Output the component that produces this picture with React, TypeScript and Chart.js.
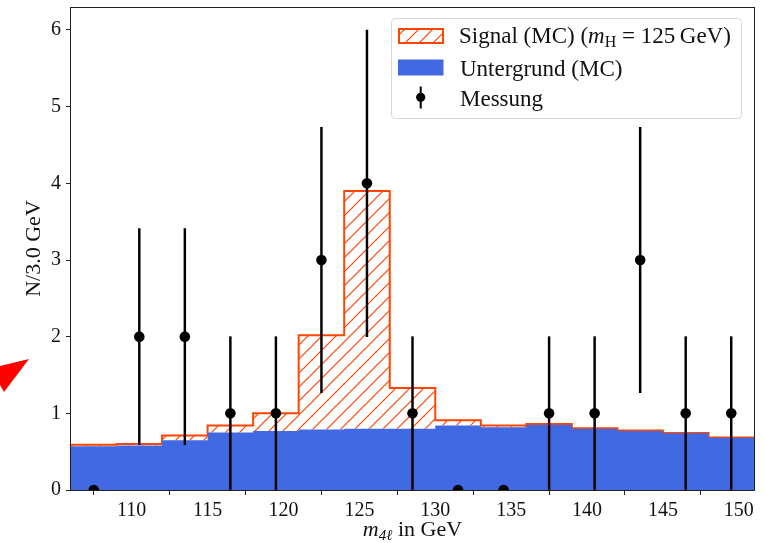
import React, { useEffect, useRef } from "react";
import { Chart, registerables } from "chart.js";

Chart.register(...registerables);

// ---- data ----
const binEdges = [106, 109, 112, 115, 118, 121, 124, 127, 130, 133, 136, 139, 142, 145, 148, 151];
const binCenters = [107.5, 110.5, 113.5, 116.5, 119.5, 122.5, 125.5, 128.5, 131.5, 134.5, 137.5, 140.5, 143.5, 146.5, 149.5];
const background = [0.57, 0.58, 0.65, 0.75, 0.77, 0.79, 0.8, 0.8, 0.84, 0.82, 0.85, 0.8, 0.77, 0.74, 0.68];
const signal = [0.02, 0.02, 0.06, 0.09, 0.23, 1.23, 3.1, 0.53, 0.07, 0.02, 0.01, 0.005, 0.005, 0.005, 0.005];
const counts = [0, 2, 2, 1, 1, 3, 4, 1, 0, 0, 1, 1, 3, 1, 1];
const countErrors = [0, 1.41, 1.41, 1, 1, 1.73, 2, 1, 0, 0, 1, 1, 1.73, 1, 1];
const xTicks = [110, 115, 120, 125, 130, 135, 140, 145, 150];
const yTicks = [0, 1, 2, 3, 4, 5, 6];
const xLimits = [106, 151];
const yLimits = [0, 6.3];

const legendLabels = ["Signal (MC) (", "Untergrund (MC)", "Messung"];

const FONT = "'Liberation Serif', 'Times New Roman', serif";
const ORANGE = "#FF4500";
const BLUE = "#4169E1";
const INK = "#111111";

function makeHatch(): CanvasPattern | string {
  const s = 14;
  const c = document.createElement("canvas");
  c.width = s;
  c.height = s;
  const g = c.getContext("2d");
  if (!g) return "rgba(255,69,0,0.3)";
  g.strokeStyle = ORANGE;
  g.lineWidth = 1.2;
  g.beginPath();
  g.moveTo(0, s);
  g.lineTo(s, 0);
  g.moveTo(-s / 2, s / 2);
  g.lineTo(s / 2, -s / 2);
  g.moveTo(s / 2, s * 1.5);
  g.lineTo(s * 1.5, s / 2);
  g.stroke();
  return g.createPattern(c, "repeat") || "rgba(255,69,0,0.3)";
}

type Part = { t: string; f: string; dy?: number };

function drawRich(ctx: CanvasRenderingContext2D, parts: Part[], x: number, y: number, align: "left" | "center") {
  let w = 0;
  for (const p of parts) {
    ctx.font = p.f;
    w += ctx.measureText(p.t).width;
  }
  let cx = align === "center" ? x - w / 2 : x;
  ctx.textAlign = "left";
  ctx.textBaseline = "alphabetic";
  for (const p of parts) {
    ctx.font = p.f;
    ctx.fillText(p.t, cx, y + (p.dy || 0));
    cx += ctx.measureText(p.t).width;
  }
}

export default function App() {
  const ref = useRef<HTMLCanvasElement>(null);

  useEffect(() => {
    const canvas = ref.current;
    if (!canvas) return;
    const hatch = makeHatch();

    const last = background.length - 1;
    const bgSteps = binEdges.map((x, i) => ({ x, y: background[Math.min(i, last)] }));
    const totalSteps = binEdges.map((x, i) => {
      const k = Math.min(i, last);
      return { x, y: background[k] + signal[k] };
    });
    const errData = binCenters
      .map((x, i) => ({ x, y: [counts[i] - countErrors[i], counts[i] + countErrors[i]] }))
      .filter((_, i) => countErrors[i] > 0);
    const ptData = binCenters.map((x, i) => ({ x, y: counts[i] }));

    const decor = {
      id: "decor",
      afterDatasetsDraw(chart: any) {
        const { ctx, chartArea: a } = chart;
        ctx.save();
        ctx.strokeStyle = "#222";
        ctx.lineWidth = 1;
        ctx.strokeRect(Math.round(a.left) - 0.5, Math.round(a.top) + 0.5, Math.round(a.right - a.left) + 1, Math.round(a.bottom - a.top));
        ctx.restore();
      },
      afterDraw(chart: any) {
        const { ctx, chartArea: a } = chart;
        ctx.save();
        ctx.fillStyle = INK;
        // y title
        ctx.save();
        ctx.translate(40, (a.top + a.bottom) / 2);
        ctx.rotate(-Math.PI / 2);
        ctx.font = `22px ${FONT}`;
        ctx.textAlign = "center";
        ctx.textBaseline = "alphabetic";
        ctx.fillText("N/3.0 GeV", 0, 0);
        ctx.restore();
        // x title
        drawRich(
          ctx,
          [
            { t: "m", f: `italic 22px ${FONT}` },
            { t: "4ℓ", f: `italic 15px ${FONT}`, dy: 4 },
            { t: " in GeV", f: `22px ${FONT}` },
          ],
          (a.left + a.right) / 2,
          536,
          "center"
        );
        // legend
        const bx = 391.5, by = 18.5, bw = 350, bh = 100;
        ctx.beginPath();
        (ctx as any).roundRect(bx, by, bw, bh, 4);
        ctx.fillStyle = "rgba(255,255,255,0.8)";
        ctx.fill();
        ctx.strokeStyle = "#d6d6d6";
        ctx.lineWidth = 1;
        ctx.stroke();
        // row 1
        ctx.fillStyle = hatch as any;
        ctx.fillRect(399, 29, 44, 14);
        ctx.strokeStyle = ORANGE;
        ctx.lineWidth = 2;
        ctx.strokeRect(399, 29, 44, 14);
        ctx.fillStyle = INK;
        drawRich(
          ctx,
          [
            { t: legendLabels[0], f: `23px ${FONT}` },
            { t: "m", f: `italic 23px ${FONT}` },
            { t: "H", f: `16px ${FONT}`, dy: 4 },
            { t: " = 125\u2009GeV)", f: `23px ${FONT}` },
          ],
          459,
          43,
          "left"
        );
        // row 2
        ctx.fillStyle = BLUE;
        ctx.fillRect(398, 59.5, 45.5, 16);
        ctx.fillStyle = INK;
        drawRich(ctx, [{ t: legendLabels[1], f: `23px ${FONT}` }], 460, 75.5, "left");
        // row 3
        ctx.strokeStyle = "#000";
        ctx.lineWidth = 2;
        ctx.beginPath();
        ctx.moveTo(420.7, 86.5);
        ctx.lineTo(420.7, 108.5);
        ctx.stroke();
        ctx.fillStyle = "#000";
        ctx.beginPath();
        ctx.arc(420.7, 97.3, 4.6, 0, Math.PI * 2);
        ctx.fill();
        ctx.fillStyle = INK;
        drawRich(ctx, [{ t: legendLabels[2], f: `23px ${FONT}` }], 460, 105.5, "left");
        ctx.restore();
      },
    };

    const tickFont = { family: FONT, size: 20 };

    const chart = new Chart(canvas, {
      type: "line",
      data: {
        datasets: [
          {
            type: "line",
            label: "Untergrund (MC)",
            data: bgSteps,
            stepped: "before",
            borderWidth: 0,
            borderColor: BLUE,
            backgroundColor: BLUE,
            fill: "origin",
            pointRadius: 0,
            order: 2,
          },
          {
            type: "line",
            label: "Signal (MC)",
            data: totalSteps,
            stepped: "before",
            borderWidth: 2,
            borderColor: ORANGE,
            backgroundColor: hatch as any,
            fill: "-1",
            pointRadius: 0,
            order: 3,
          },
          {
            type: "bar",
            label: "err",
            data: errData as any,
            backgroundColor: "#000",
            borderWidth: 0,
            barThickness: 1.8,
            order: 1,
          },
          {
            type: "line",
            label: "Messung",
            data: ptData,
            showLine: false,
            pointRadius: 5.3,
            pointBackgroundColor: "#000",
            pointBorderWidth: 0,
            clip: 0,
            order: 0,
          } as any,
        ],
      },
      options: {
        animation: false,
        responsive: false,
        devicePixelRatio: 1,
        events: [],
        layout: { padding: { top: 7, right: 12, left: 0, bottom: 0 } },
        plugins: { legend: { display: false }, tooltip: { enabled: false } },
        scales: {
          x: {
            type: "linear",
            min: xLimits[0],
            max: xLimits[1],
            offset: false,
            afterBuildTicks: (s: any) => {
              s.ticks = xTicks.map((v) => ({ value: v }));
            },
            afterFit: (s: any) => {
              s.height = 53;
              s.paddingLeft = 0;
              s.paddingRight = 0;
            },
            grid: { drawOnChartArea: false, drawTicks: true, tickLength: 5, color: "#222" },
            border: { display: false },
            ticks: { font: tickFont, color: INK, padding: 4, maxRotation: 0, autoSkip: false },
          },
          y: {
            type: "linear",
            min: yLimits[0],
            max: yLimits[1],
            afterBuildTicks: (s: any) => {
              s.ticks = yTicks.map((v) => ({ value: v }));
            },
            afterFit: (s: any) => {
              s.width = 71;
              s.paddingTop = 0;
              s.paddingBottom = 0;
            },
            grid: { drawOnChartArea: false, drawTicks: true, tickLength: 5, color: "#222" },
            border: { display: false },
            ticks: { font: tickFont, color: INK, padding: 5, autoSkip: false },
          },
        },
      } as any,
      plugins: [decor],
    });
    return () => chart.destroy();
  }, []);

  return (
    <div style={{ position: "fixed", left: 0, top: 0, width: 766, height: 543, background: "#fff" }}>
      <canvas ref={ref} width={766} height={543} style={{ display: "block", width: 766, height: 543 }} />
      <div
        style={{
          position: "absolute",
          left: 0,
          top: 0,
          width: 40,
          height: 400,
          background: "#ff0000",
          clipPath: "polygon(29px 359px, 0px 366px, 0px 385px, 4px 392px)",
        }}
      />
    </div>
  );
}
